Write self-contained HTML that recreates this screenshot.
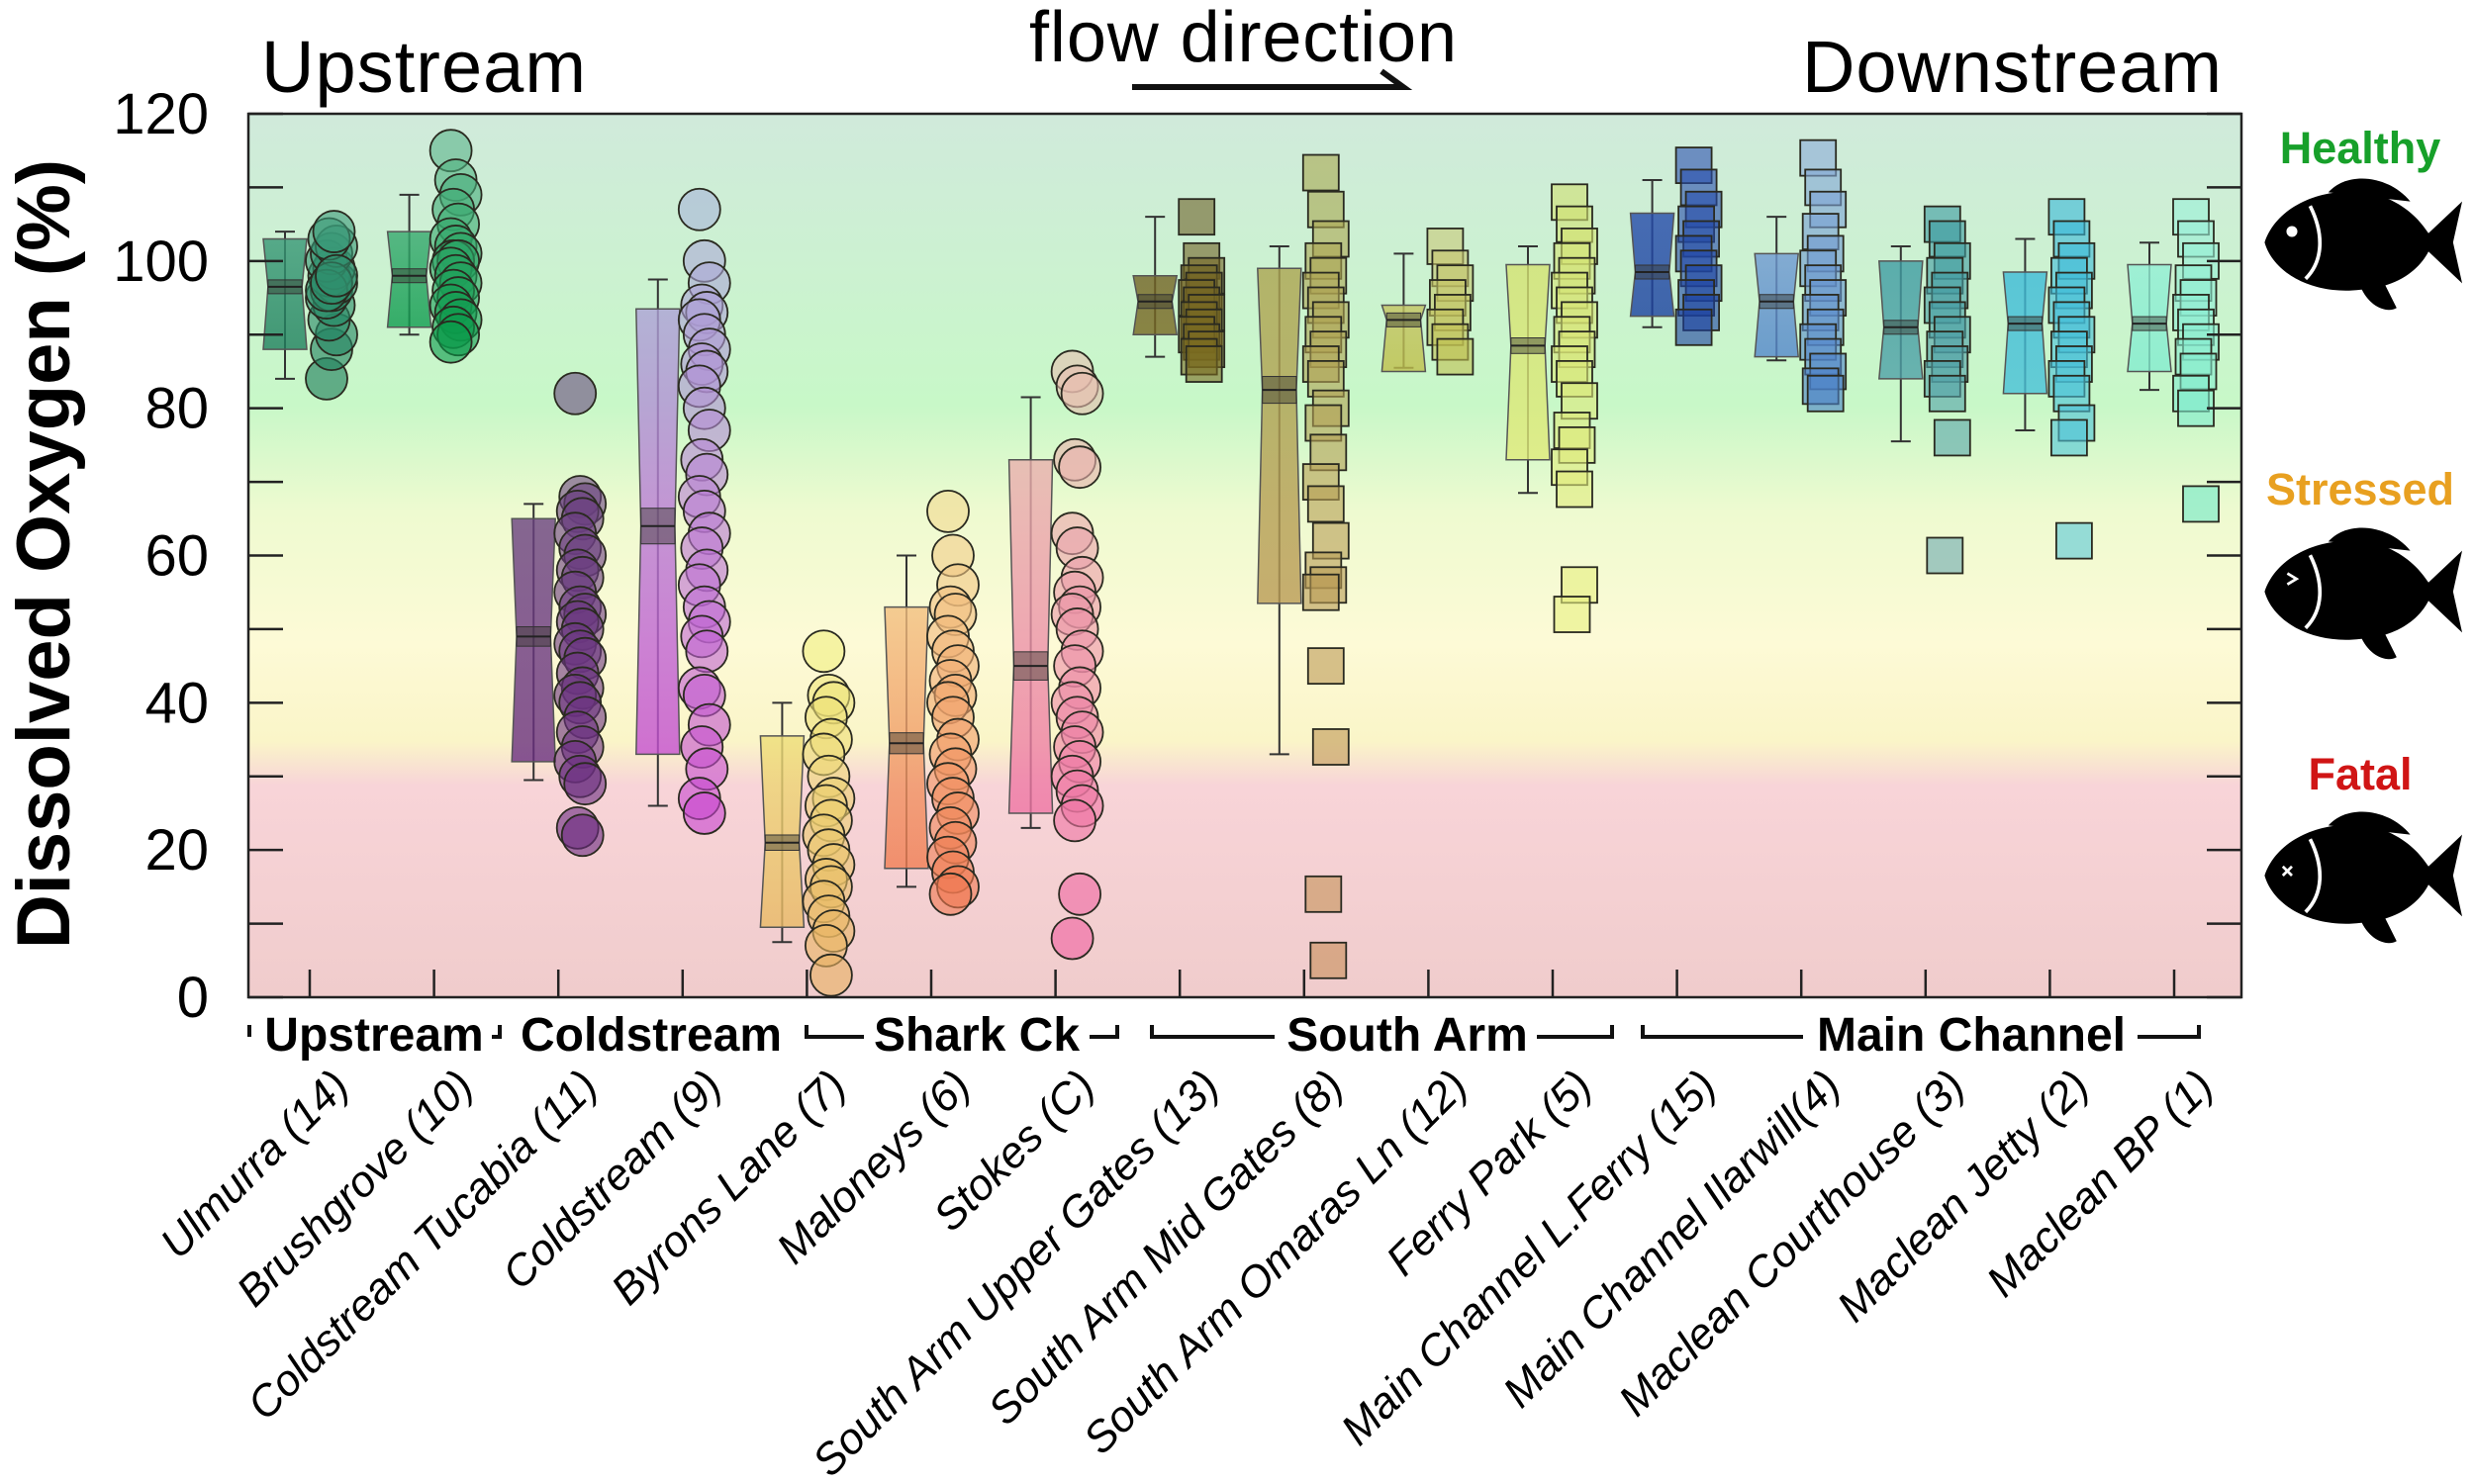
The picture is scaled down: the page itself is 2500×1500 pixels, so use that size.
<!DOCTYPE html>
<html><head><meta charset="utf-8"><style>
html,body{margin:0;padding:0;background:#fff;}
svg{display:block;font-family:"Liberation Sans",Arial,sans-serif;}
</style></head><body>
<svg id="chart" width="2500" height="1500" viewBox="0 0 2500 1500">
<defs>
<linearGradient id="bg" x1="0" y1="0" x2="0" y2="1">
<stop offset="0" stop-color="#d0eadb"/>
<stop offset="0.33" stop-color="#c8f8c8"/>
<stop offset="0.45" stop-color="#eefad0"/>
<stop offset="0.6" stop-color="#fdfad6"/>
<stop offset="0.71" stop-color="#faf5c8"/>
<stop offset="0.76" stop-color="#f8d4d8"/>
<stop offset="1" stop-color="#f0cccc"/>
</linearGradient>
</defs>
<rect x="251" y="115" width="2014" height="893" fill="url(#bg)"/>
<g id="marks"></g>
<rect x="251" y="115" width="2014" height="893" fill="none" stroke="#222" stroke-width="2.5"/>
<g id="axes"></g>
<text x="264" y="93" font-size="74" textLength="328">Upstream</text>
<text x="1040" y="62" font-size="72" textLength="432">flow direction</text>
<path d="M1144 88 L1418 88 L1396 72" fill="none" stroke="#111" stroke-width="6"/>
<text x="1821" y="93" font-size="74" textLength="424">Downstream</text>
<text transform="translate(70,560) rotate(-90)" text-anchor="middle" font-size="76" font-weight="bold">Dissolved Oxygen (%)</text>
<g font-size="48" font-weight="bold">
<text x="378" y="1062" text-anchor="middle">Upstream</text>
<text x="658" y="1062" text-anchor="middle">Coldstream</text>
<text x="987" y="1062" text-anchor="middle">Shark Ck</text>
<text x="1422" y="1062" text-anchor="middle">South Arm</text>
<text x="1992" y="1062" text-anchor="middle">Main Channel</text>
</g>
<path d="M252 1036 v12 M497 1048 h8 v-12 M815 1036 v12 h58 M1101 1048 h28 v-12 M1164 1036 v12 h124 M1553 1048 h76 v-12 M1660 1036 v12 h162 M2160 1048 h62 v-12" fill="none" stroke="#111" stroke-width="4"/>
<g id="legend">
<text x="2385" y="165" text-anchor="middle" font-size="45" font-weight="bold" fill="#17a02a">Healthy</text>
<text x="2385" y="510" text-anchor="middle" font-size="45" font-weight="bold" fill="#e8a020">Stressed</text>
<text x="2385" y="798" text-anchor="middle" font-size="45" font-weight="bold" fill="#d01515">Fatal</text>
</g>
</svg>
<script>
const sites=["Ulmurra (14)","Brushgrove (10)","Coldstream Tucabia (11)","Coldstream (9)","Byrons Lane (7)","Maloneys (6)","Stokes (C)","South Arm Upper Gates (13)","South Arm Mid Gates (8)","South Arm Omaras Ln (12)","Ferry Park (5)","Main Channel L.Ferry (15)","Main Channel Ilarwill(4)","Maclean Courthouse (3)","Maclean Jetty (2)","Maclean BP (1)"];
const q1=[88,91,32,33,9.5,17.5,25,90,53.5,85,73,92.5,87,84,82,85];
const q3=[103,104,65,93.5,35.5,53,73,98,99,94,99.5,106.5,101,100,98.5,99.5];
const medians=[96.5,98,49,64,21,34.5,45,94.5,82.5,92,88.5,98.5,94.5,91,91.5,91.5];
const whiskLo=[84,90,29.5,26,7.5,15,23,87,33,85.5,68.5,91,86.5,75.5,77,82.5];
const whiskHi=[104,109,67,97.5,40,60,81.5,106,102,101,102,111,106,102,103,102.5];
const ptsUlmurra=[84,88,90,92,94,95,96,97,98,99,100,101,102,103,104,96,97,98];
const ptsBrushgrove=[115,111,109,107,105,103,102,101,100,100,99,98,97,96,95,94,93,92,91,90,89];
const ptsTucabia=[82,68,67,66,65,63,61,60,58,57,55,53,52,51,50,48,47,46,44,42,41,40,38,36,34,32,30,29,23,22];
const ptsColdstream=[107,100,97,94,93,92,90,88,86,85,83,80,77,73,71,68,66,63,61,58,56,53,51,49,47,42,41,37,34,31,27,25];
const ptsByrons=[47,41,40,38,35,33,30,27,26,24,22,20,18,16,15,13,11,9,7,3];
const ptsMaloneys=[66,60,56,53,52,49,47,45,43,41,40,38,35,33,31,29,27,25,23,21,19,17,15,14];
const ptsStokes=[85,83,82,73,72,63,61,57,55,53,52,50,47,45,42,40,38,36,34,32,30,28,26,24,14,8];
const ptsUpperGates=[106,100,98,97,96,95,94,93,92,91,90,89,88,87,86];
const ptsMidGates=[112,107,103,100,98,96,94,92,90,88,86,84,80,78,74,70,67,62,58,56,55,45,34,14,5];
const ptsOmaras=[102,99,97,95,93,91,89,87];
const ptsFerry=[108,105,102,100,98,96,94,92,90,88,86,84,81,77,75,72,69,56,52];
const ptsLFerry=[113,110,107,105,103,101,99,97,95,93,91];
const ptsIlarwill=[114,110,107,104,101,99,97,95,93,91,89,87,85,83,82];
const ptsCourthouse=[105,103,100,98,96,94,92,90,88,86,84,82,76,60];
const ptsJetty=[106,103,100,98,96,94,92,90,88,86,84,82,78,76,62];
const ptsBP=[106,103,100,97,95,93,91,89,87,85,82,80,67];
const points=[ptsUlmurra,ptsBrushgrove,ptsTucabia,ptsColdstream,ptsByrons,ptsMaloneys,ptsStokes,ptsUpperGates,ptsMidGates,ptsOmaras,ptsFerry,ptsLFerry,ptsIlarwill,ptsCourthouse,ptsJetty,ptsBP];
const colTop=["#3a9a78","#5ab48a","#6a4a80","#a8b4d8","#f0ee80","#f2d890","#e8c0b0","#6e6028","#a8a850","#c8c878","#d0e070","#2a50b0","#8aacd8","#3a9aa0","#38b8d8","#9af0d8"];
const colBot=["#1a7a58","#0a9a4a","#6a2a80","#c844d0","#e8b060","#f07850","#f060a0","#7a6a20","#c8905a","#c0c050","#e8f080","#1a40a0","#4a80c8","#6aa8b0","#58c8d8","#70e8c8"];
const yTicks=[0,20,40,60,80,100,120];
const minorTicks=[10,30,50,70,90,110];

const NS="http://www.w3.org/2000/svg";
const X0=251,X1=2265,Y0=1008,Y1=115,VMAX=120;
function yScale(v){return Y0-(v/VMAX)*(Y0-Y1);}
function xScale(i){return 313+125.6*i;}
function mk(tag,attrs,parent){const e=document.createElementNS(NS,tag);for(const k in attrs)e.setAttribute(k,attrs[k]);parent.appendChild(e);return e;}
function hex(c){return [1,3,5].map(i=>parseInt(c.substr(i,2),16));}
function mix(a,b,t){const A=hex(a),B=hex(b);return "rgb("+A.map((v,i)=>Math.round(v+(B[i]-v)*t)).join(",")+")";}
function colorAt(i,v){const lo=Math.min(...points[i]),hi=Math.max(...points[i]);const t=hi>lo?(hi-v)/(hi-lo):0;return mix(colTop[i],colBot[i],t);}
const marks=document.getElementById('marks');
const axes=document.getElementById('axes');
const defs=document.querySelector('defs');

sites.forEach((s,i)=>{
  const cx=xScale(i);
  const bx=cx-25;const hw=22;
  const g=mk('g',{},marks);
  
  
  const gr=mk('linearGradient',{id:'bg'+i,x1:0,y1:0,x2:0,y2:1},defs);
  mk('stop',{offset:0,'stop-color':colorAt(i,q3[i])},gr);
  mk('stop',{offset:1,'stop-color':colorAt(i,q1[i])},gr);
  const wl=mk('path',{d:`M${bx} ${yScale(whiskLo[i])}V${yScale(whiskHi[i])}M${bx-10} ${yScale(whiskLo[i])}h20M${bx-10} ${yScale(whiskHi[i])}h20`,stroke:'#333','stroke-width':2,fill:'none'},g);
  
  
  const yt=yScale(q3[i]),yb=yScale(q1[i]),ym=yScale(medians[i]);
  const nw=hw*0.78;
  const box=mk('polygon',{points:`${bx-hw},${yt} ${bx+hw},${yt} ${bx+nw},${ym} ${bx+hw},${yb} ${bx-hw},${yb} ${bx-nw},${ym}`,fill:`url(#bg${i})`,'fill-opacity':0.8,stroke:'#555','stroke-width':1.5},g);
  
  
  const nh=Math.max(14,(yb-yt)*0.08);
  const notch=mk('rect',{x:bx-nw,y:ym-nh/2,width:nw*2,height:nh,fill:'#3a3a30','fill-opacity':0.45,stroke:'#333','stroke-width':1},g);
  
  
  const ml=mk('line',{x1:bx-nw,x2:bx+nw,y1:ym,y2:ym,stroke:'#222','stroke-width':2},g);
  
  
  const px=cx+22;
  points[i].forEach((v,j)=>{
    const jx=px+((j*7)%5-2)*2.5;
    const y=yScale(v);
    let p;
    if(i<7){p=mk('circle',{cx:jx,cy:y,r:21,fill:colorAt(i,v),'fill-opacity':0.6,stroke:'#2a2a20','stroke-width':1.8},g);}
    else{p=mk('rect',{x:jx-18,y:y-18,width:36,height:36,fill:colorAt(i,v),'fill-opacity':0.6,stroke:'#2a2a20','stroke-width':1.8},g);}
    
    
  });
  const tk=mk('line',{x1:cx,x2:cx,y1:Y0,y2:Y0-28,stroke:'#222','stroke-width':2.5},axes);
  
  
  const lb=mk('text',{transform:`translate(${cx+42},${1100}) rotate(-45)`,'text-anchor':'end','font-size':44,'font-style':'italic'},axes);
  lb.textContent=s;
  
  
});
yTicks.forEach(v=>{
  const y=yScale(v);
  const t=mk('line',{x1:X0,x2:X0+35,y1:y,y2:y,stroke:'#222','stroke-width':2.5},axes);
  
  
  const t2=mk('line',{x1:X1-35,x2:X1,y1:y,y2:y,stroke:'#222','stroke-width':2.5},axes);
  
  
  const l=mk('text',{x:211,y:y+20,'text-anchor':'end','font-size':58},axes);
  l.textContent=v;
  
  
});
minorTicks.forEach(v=>{
  const y=yScale(v);
  const t=mk('line',{x1:X0,x2:X0+35,y1:y,y2:y,stroke:'#222','stroke-width':2.5},axes);
  
  
  const t2=mk('line',{x1:X1-35,x2:X1,y1:y,y2:y,stroke:'#222','stroke-width':2.5},axes);
  
  
});
// fish icons
const leg=document.getElementById('legend');
[[2385,245,'healthy'],[2385,598,'stressed'],[2385,885,'fatal']].forEach(([x,y,n])=>{
  const g=mk('g',{transform:`translate(${x},${y}) scale(0.92)`},leg);
  
  
  mk('path',{d:'M-105,0 C-90,-45 -30,-65 20,-52 C50,-42 65,-25 75,-10 L112,-45 L102,0 L112,45 L75,10 C65,30 40,50 0,52 C-50,58 -95,35 -105,0 Z',fill:'#000'},g);
  mk('path',{d:'M-35,-55 C-15,-78 30,-75 55,-45 Z',fill:'#000'},g);
  mk('path',{d:'M0,48 C10,72 30,78 40,72 L25,42 Z',fill:'#000'},g);
  if(n==='healthy') mk('circle',{cx:-75,cy:-12,r:6,fill:'#fff'},g);
  else if(n==='stressed') mk('path',{d:'M-80,-20 l10,6 l-10,6',stroke:'#fff','stroke-width':3,fill:'none'},g);
  else mk('path',{d:'M-85,-10 l10,10 M-75,-10 l-10,10',stroke:'#fff','stroke-width':3},g);
  mk('path',{d:'M-55,-40 C-40,-10 -40,20 -60,40',stroke:'#fff','stroke-width':4,fill:'none'},g);
});
</script>
</body></html>
